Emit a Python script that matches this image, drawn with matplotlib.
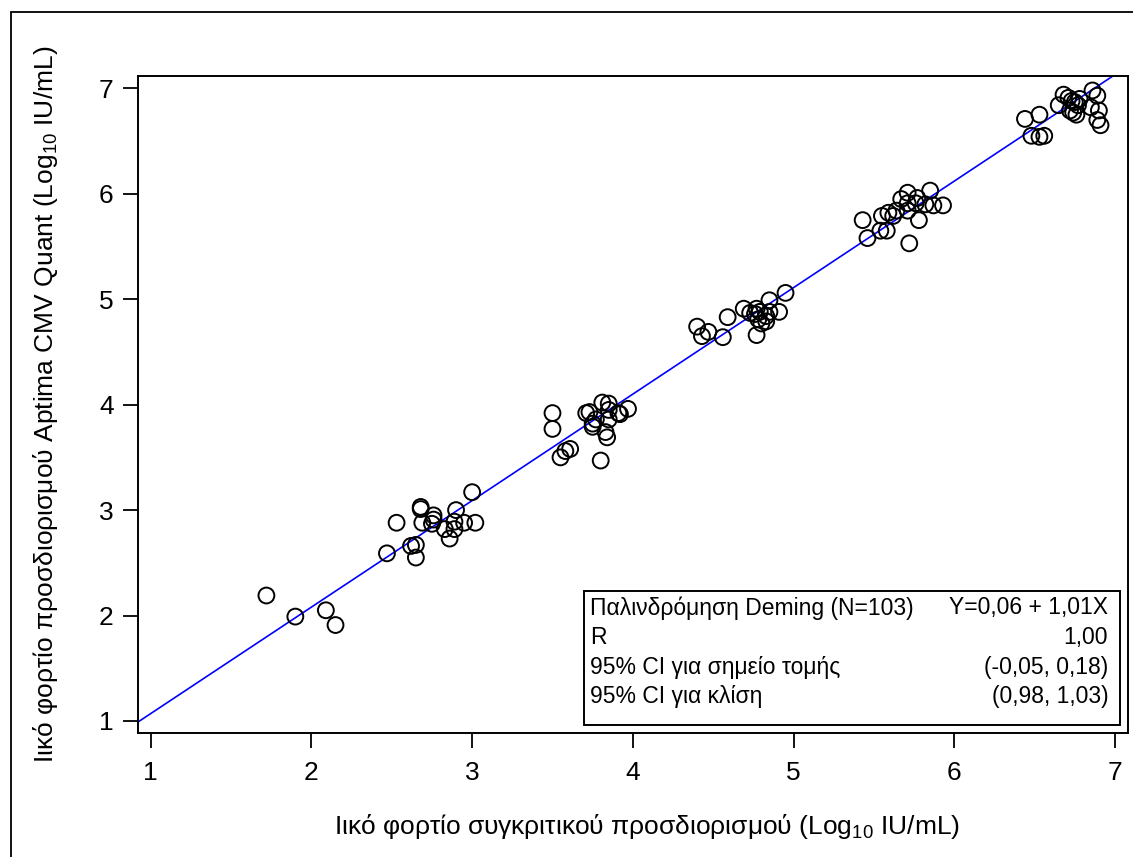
import matplotlib

matplotlib.use("Agg")

import numpy as np
import matplotlib.pyplot as plt
from matplotlib.patches import Rectangle

plt.rcParams["font.family"] = ["Liberation Sans", "DejaVu Sans"]
plt.rcParams["mathtext.default"] = "regular"

# comparator assay (Log10 IU/mL)
x_vals = [
    1.72, 1.90, 2.09, 2.15,
    2.47, 2.53, 2.62, 2.65, 2.65, 2.68, 2.68, 2.69, 2.76, 2.76, 2.75,
    2.83, 2.90, 2.89, 2.89, 2.86, 2.95, 3.02, 3.00,
    3.50, 3.50, 3.55, 3.58, 3.61, 3.80, 3.71, 3.73, 3.75, 3.75, 3.77,
    3.81, 3.85, 3.85, 3.85, 3.83, 3.84, 3.91, 3.92, 3.97,
    4.40, 4.43, 4.47, 4.56, 4.59, 4.69, 4.73, 4.76, 4.77, 4.79, 4.77,
    4.78, 4.80, 4.83, 4.83, 4.85, 4.85, 4.91, 4.95,
    5.43, 5.46, 5.54, 5.58, 5.55, 5.59, 5.62, 5.64, 5.67, 5.71, 5.71,
    5.71, 5.72, 5.77, 5.76, 5.78, 5.82, 5.85, 5.87, 5.93,
    6.44, 6.53, 6.48, 6.53, 6.56, 6.65, 6.68, 6.71, 6.73, 6.75, 6.77,
    6.72, 6.74, 6.76, 6.78, 6.85, 6.86, 6.89, 6.90, 6.89, 6.91,
]
# Aptima CMV Quant (Log10 IU/mL)
y_vals = [
    2.19, 1.99, 2.05, 1.91,
    2.59, 2.88, 2.66, 2.67, 2.55, 3.03, 3.01, 2.88, 2.95, 2.91, 2.87,
    2.82, 3.00, 2.89, 2.82, 2.73, 2.88, 2.88, 3.17,
    3.92, 3.77, 3.50, 3.56, 3.58, 3.47, 3.92, 3.93, 3.82, 3.79, 3.86,
    4.02, 4.01, 3.95, 3.86, 3.74, 3.69, 3.92, 3.91, 3.96,
    4.74, 4.65, 4.69, 4.64, 4.83, 4.91, 4.87, 4.86, 4.91, 4.88, 4.66,
    4.81, 4.77, 4.79, 4.84, 4.99, 4.88, 4.88, 5.06,
    5.75, 5.58, 5.65, 5.65, 5.79, 5.82, 5.79, 5.84, 5.95, 6.01, 5.91,
    5.84, 5.53, 5.96, 5.91, 5.75, 5.90, 6.03, 5.89, 5.89,
    6.71, 6.75, 6.55, 6.54, 6.55, 6.84, 6.94, 6.91, 6.88, 6.87, 6.84,
    6.79, 6.77, 6.75, 6.90, 6.82, 6.98, 6.93, 6.79, 6.70, 6.65,
]

intercept = 0.06
slope = 1.01
ticks = [1, 2, 3, 4, 5, 6, 7]

stats_labels = ["Παλινδρόμηση Deming (N=103)", "R",
                "95% CI για σημείο τομής", "95% CI για κλίση"]
stats_values = ["Y=0,06 + 1,01X", "1,00", "(-0,05, 0,18)", "(0,98, 1,03)"]

fig = plt.figure(figsize=(11.33, 8.57), dpi=100)
ax = fig.add_axes([138 / 1133, 1 - 733 / 857, 990 / 1133, 657 / 857])

xlim = (0.921, 7.081)
ylim = (0.886, 7.117)

xl = np.array(xlim)
ax.plot(xl, intercept + slope * xl, color="#0000ff", lw=1.2, zorder=2)
ax.scatter(x_vals, y_vals, s=130, facecolors="none", edgecolors="black",
           linewidths=1.4, zorder=3)

ax.set_xlim(xlim)
ax.set_ylim(ylim)
ax.set_xticks(ticks)
ax.set_yticks(ticks)
ax.tick_params(direction="out", length=10.5, width=1.3, labelsize=19)
ax.tick_params(axis="x", pad=10)
ax.tick_params(axis="y", pad=7)
for s in ax.spines.values():
    s.set_linewidth(1.4)

ax.set_xlabel("Ιικό φορτίο συγκριτικού προσδιορισμού (Log$_{10}$ IU/mL)",
              fontsize=19)
ax.xaxis.set_label_coords(0.5146, -0.121)
ax.set_ylabel("Ιικό φορτίο προσδιορισμού Aptima CMV Quant (Log$_{10}$ IU/mL)",
              fontsize=19, labelpad=28)

# stats box (axes fraction)
bx0, bx1, by0, by1 = 0.4505, 0.992, 0.0122, 0.2161
ax.add_patch(Rectangle((bx0, by0), bx1 - bx0, by1 - by0, transform=ax.transAxes,
                       facecolor="white", edgecolor="black", lw=1.4, zorder=4))
row_y = [0.1903, 0.1453, 0.1000, 0.0549]
for yy, lab, val in zip(row_y, stats_labels, stats_values):
    ax.text(0.4566, yy, lab, transform=ax.transAxes, ha="left", va="center",
            fontsize=16.5, zorder=5)
    ax.text(0.980, yy, val, transform=ax.transAxes, ha="right", va="center",
            fontsize=16.5, zorder=5)

# outer frame
fig.add_artist(Rectangle((11 / 1133, -0.05), 1.2, 1 - 11.5 / 857 + 0.05,
                         transform=fig.transFigure, fill=False,
                         edgecolor="black", lw=1.3))

fig.savefig("out.png", dpi=100)
